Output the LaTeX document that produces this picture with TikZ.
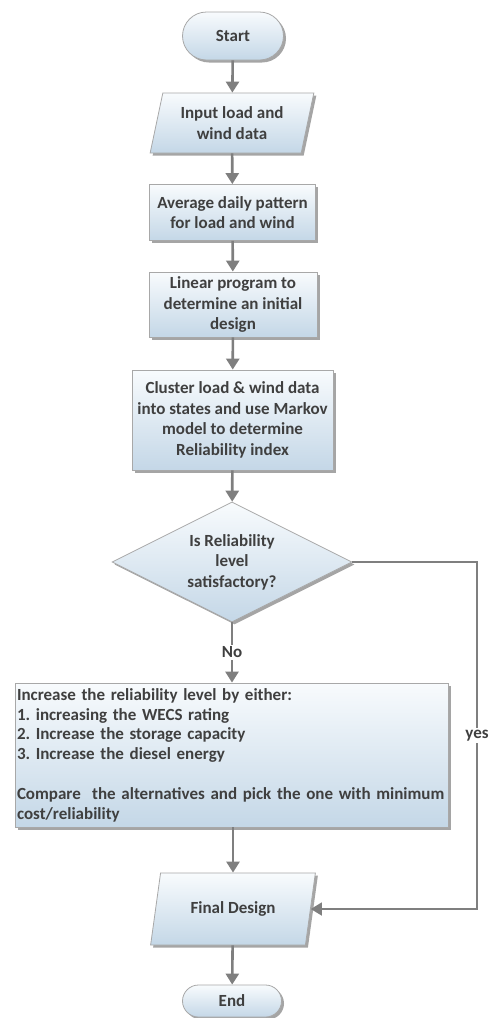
\documentclass[tikz,border=0pt]{standalone}
\usepackage{fontspec}
\setmainfont{Carlito}
\usepackage{tikz}
\usetikzlibrary{shapes.geometric,shapes.misc,shadows,arrows.meta}
\frenchspacing

\definecolor{boxtop}{HTML}{F8FBFD}
\definecolor{boxbot}{HTML}{C4D7E7}
\definecolor{edgegray}{HTML}{A8A8A8}
\definecolor{arrowgray}{HTML}{7F7F7F}
\definecolor{txtgray}{HTML}{3F3F3F}

\tikzset{
  base/.style={draw=edgegray, line width=0.8pt, top color=boxtop, bottom color=boxbot,
    text=txtgray, font=\bfseries\fontsize{17}{20.5}\selectfont, align=center, inner sep=2pt,
    drop shadow={shadow xshift=2.5pt, shadow yshift=-2.5pt, fill=black!70, opacity=0.5}},
  terminal/.style={base, rounded rectangle, minimum width=105pt, minimum height=48pt},
  iobox/.style={base, trapezium, trapezium stretches=true, trapezium left angle=75,
    trapezium right angle=105, minimum width=164pt, minimum height=60pt},
  process/.style={base, rectangle, minimum width=166pt, minimum height=56pt},
  decision/.style={base, diamond, aspect=2, inner sep=0pt, minimum width=240pt, minimum height=120pt},
  flow/.style={draw=arrowgray, line width=2.6pt, -{Triangle[length=11pt,width=13pt]}},
  label/.style={text=txtgray, font=\bfseries\fontsize{17}{20.5}\selectfont, fill=white, inner sep=2pt}
}

\begin{document}
\begin{tikzpicture}[x=1pt,y=-1pt]
\useasboundingbox (0,0) rectangle (489,1018);

% nodes
\node[terminal] (start) at (233,36) {Start};
\node[iobox] (input) at (232,123) {Input load and\\wind data};
\node[process] (average) at (232.5,212.5) {Average daily pattern\\for load and wind};
\node[process, minimum width=168pt, minimum height=65pt] (linear) at (233,304.5)
  {Linear program to\\determine an initial\\design};
\node[process, minimum width=201pt, minimum height=100pt] (cluster) at (232.5,420)
  {Cluster load \& wind data\\into states and use Markov\\model to determine\\Reliability index};
\node[decision] (check) at (232,562) {Is Reliability\\level\\satisfactory?};
\node[base, rectangle, align=left, text width=429pt, minimum height=144pt,
  font=\bfseries\fontsize{17}{19.8}\selectfont] (increase) at (231.5,755)
  {Increase the reliability level by either:\\
   1. increasing the WECS rating\\
   2. Increase the storage capacity\\
   3. Increase the diesel energy\\
   \mbox{}\\
   Compare\ \ the alternatives and pick the one with minimum\\
   cost/reliability};
\node[iobox, trapezium left angle=72, trapezium right angle=108, minimum width=165pt,
  minimum height=72pt] (final) at (233,909) {Final Design};
\node[terminal, minimum width=103pt, minimum height=32pt] (end) at (232,1001) {End};

\coordinate (yesturn) at (477,562);

% connectors
\draw[flow] (start) -- (input);
\draw[flow] (input) -- (average);
\draw[flow] (average) -- (linear);
\draw[flow] (linear) -- (cluster);
\draw[flow] (cluster) -- (check);
\draw[flow] (check.south) -- node[label] {No} (check.south |- increase.north);
\draw[flow, line width=1.4pt] (check.east) -- (yesturn) |- node[label, pos=0.25] {yes} (final.east);
\draw[flow] (increase.south -| final.north) -- (final.north);
\draw[flow] (final) -- (end);
\end{tikzpicture}
\end{document}
